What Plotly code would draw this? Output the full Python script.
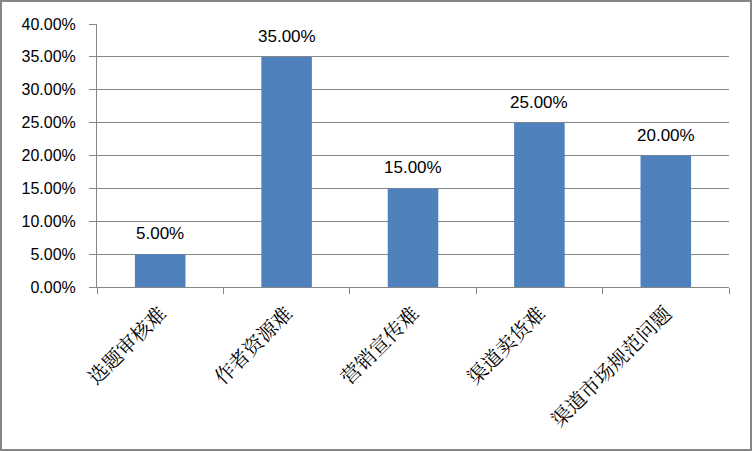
import plotly.graph_objects as go

categories = ["选题审核难", "作者资源难", "营销宣传难", "渠道卖货难", "渠道市场规范问题"]
values = [0.05, 0.35, 0.15, 0.25, 0.20]
y_ticks = [0.0, 0.05, 0.10, 0.15, 0.20, 0.25, 0.30, 0.35, 0.40]

W, H = 753, 451
L, R, T, B = 97, 24, 24, 164
pw, ph = W - L - R, H - T - B

fig = go.Figure(go.Bar(
    x=categories, y=values,
    marker=dict(color="#4F81BD", line=dict(width=0)),
    hoverinfo="skip",
))

annotations = [
    dict(x=c, y=v, text=f"{v*100:.2f}%", showarrow=False, yanchor="bottom",
         yshift=9, font=dict(family="Liberation Sans, Arial", size=17, color="#000000"))
    for c, v in zip(categories, values)
]

fig.update_layout(
    width=W, height=H,
    margin=dict(l=L, r=R, t=T, b=B),
    paper_bgcolor="white", plot_bgcolor="white",
    bargap=0.6, showlegend=False,
    annotations=annotations,
    shapes=[dict(type="rect", xref="paper", yref="paper",
                 x0=-(L - 1) / pw, x1=(W - L - 2) / pw,
                 y0=-(B - 1) / ph, y1=1 + (T - 1) / ph,
                 line=dict(color="#868686", width=2))],
)
fig.update_xaxes(
    type="category", tickson="boundaries", ticks="outside", ticklen=6,
    tickcolor="#868686", showline=True, linecolor="#868686", linewidth=1,
    showgrid=False, tickangle=-45, automargin=False, ticklabelstandoff=6,
    tickfont=dict(family="Noto Serif CJK SC, Noto Sans CJK SC", size=20, color="#000000"),
)
fig.update_yaxes(
    range=[0, 0.40], tickvals=y_ticks, tickformat=".2%",
    ticks="outside", ticklen=7, tickcolor="#868686", ticklabelstandoff=10,
    showline=True, linecolor="#868686", linewidth=1, automargin=False,
    showgrid=True, gridcolor="#868686", gridwidth=1, zeroline=False,
    tickfont=dict(family="Liberation Sans, Arial", size=16, color="#000000"),
)

fig.write_html("out.html", config={"displayModeBar": False},
               post_script="document.body.style.margin='0';document.body.style.padding='0';")
